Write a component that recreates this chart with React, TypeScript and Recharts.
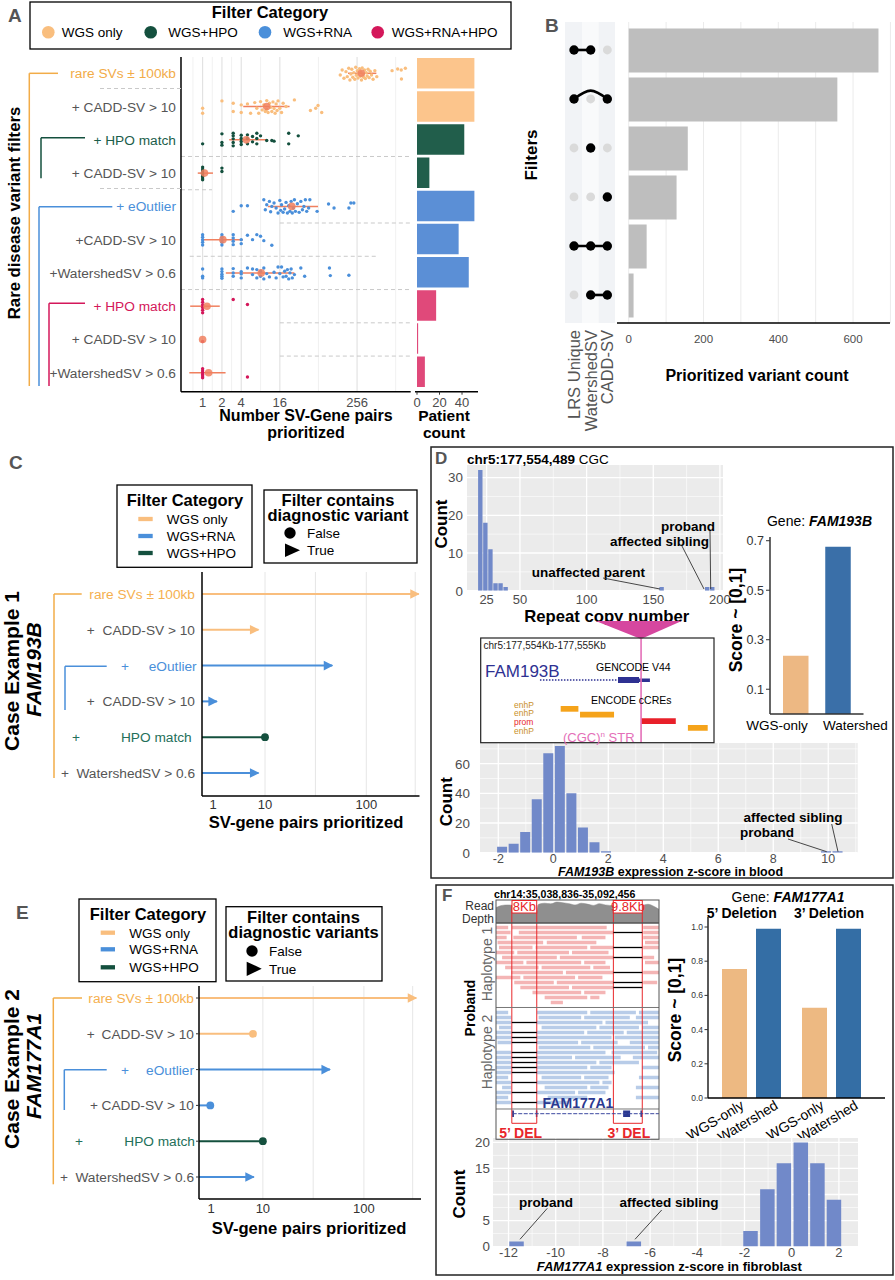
import React from 'react';
import {
  ScatterChart, Scatter, BarChart, Bar, Cell, XAxis, YAxis, CartesianGrid,
  ReferenceLine, ReferenceArea, AreaChart, Area,
} from 'recharts';

const FONT = '"Liberation Sans", Arial, Helvetica, sans-serif';

const COL: any = {
  wgs: '#F9BE7E', hpo: '#14503E', rna: '#4A8FDA', rnahpo: '#D4175A',
  summary: '#F0805F', gray: '#555555',
};
const TXT: any = { wgs: '#F2AC48', hpo: '#1B5E4B', rna: '#4A8FDA', rnahpo: '#D4175A', gray: '#555555' };
const PATIENT_COL: any = { wgs: '#FCC58C', hpo: '#215E4B', rna: '#5B8FD6', rnahpo: '#E0497A' };
const ROW_FS = 13.7;

// ---------------- Panel A data ----------------
const filterLabelsA = ['rare SVs ± 100kb', '+ CADD-SV > 10', '+ HPO match', '+  CADD-SV > 10', '+ eOutlier',
  '+CADD-SV > 10', '+WatershedSV > 0.6', '+ HPO match', '+ CADD-SV > 10', '+WatershedSV > 0.6'];
const filterCategoryA = ['wgs', 'wgs', 'hpo', 'hpo', 'rna', 'rna', 'rna', 'rnahpo', 'rnahpo', 'rnahpo'];
const labelColorA = ['wgs', 'gray', 'hpo', 'gray', 'rna', 'gray', 'gray', 'rnahpo', 'gray', 'gray'];
const patientCountA = [51, 51, 42, 11, 51, 37, 46, 17, 1, 7];
const patientTicks = [0, 20, 40];

const ptsRareSV = [[140,0.05],[150,-0.1],[160,0.15],[172,-0.05],[180,0.1],[190,-0.15],[198,0.2],[205,0.02],[212,-0.12],[220,0.12],[228,-0.02],[236,0.18],[244,-0.18],[250,0.06],[258,-0.08],[265,0.14],[272,0],[280,-0.14],[288,0.09],[295,-0.04],[300,0.2],[308,-0.16],[316,0.04],[325,0.12],[334,-0.1],[345,0.16],[356,-0.02],[368,0.08],[380,-0.12],[395,0.13],[410,-0.06],[430,0.05],[455,0.18],[485,-0.08],[520,0.1],[900,-0.08],[1100,-0.13],[1250,-0.1],[1450,-0.15],[1260,0.17]];
const ptsCadd1 = [[1,0.05],[1,0.2],[2,-0.17],[3,-0.1],[3,0.15],[4,-0.05],[4,0.18],[5,-0.08],[5.6,0.2],[6.5,-0.12],[7,0.05],[7.5,0.2],[8,-0.15],[8.5,0.1],[9,-0.05],[9.5,0.15],[10,-0.18],[10,0.08],[10.5,0.18],[11,-0.1],[11.5,0.02],[12,0.15],[12.5,-0.14],[13,0.06],[13.5,0.2],[14,-0.08],[14.5,0.12],[15,-0.17],[16,0.05],[17,0.18],[18,-0.1],[20,0],[27,-0.2],[48,0.12],[58,0.05],[63,-0.03],[72,0.18]];
const ptsHpo1 = [[1,0.12],[2,-0.18],[2,0.08],[2,0.16],[3,-0.2],[3,-0.12],[3,-0.03],[3,0.08],[3,0.18],[4,-0.14],[4,-0.04],[4,0.05],[4,0.14],[5,-0.15],[5,-0.04],[5,0.12],[6,-0.1],[6,0.06],[7,-0.2],[7,-0.04],[7,0.12],[8,-0.12],[10,0.02],[12,0.02],[13,0.04],[22,-0.2],[22,0.12],[31,-0.12]];
const ptsCadd2 = [[1,-0.18],[1,-0.12],[1,-0.06],[1,0],[1,0.05],[1,0.1],[1,0.15],[1,0.2],[2,-0.15],[2,-0.05]];
const ptsEoutlier = [[3,0.15],[4,-0.02],[5,-0.02],[9,-0.2],[9.5,0.1],[10,-0.05],[11,-0.15],[11.5,0.16],[12,0],[13,-0.1],[14,0.05],[15,0.2],[16,-0.18],[16.5,0.12],[17,-0.05],[18,0.18],[19,0.08],[20,-0.12],[21,0.2],[22,-0.02],[23,0.15],[24,-0.15],[25,0.2],[26,0.05],[27,-0.2],[28,0.15],[30,-0.08],[32,0.18],[34,-0.15],[36,0.1],[38,0],[40,-0.2],[42,0.15],[45,0.05],[47,-0.2],[61,0.15],[92,-0.07],[112,0.05],[191,0.05],[205,-0.1],[228,-0.1]];
const ptsCadd3 = [[1,-0.15],[1,-0.07],[1,0],[1,0.08],[1,0.16],[2,-0.15],[2,-0.07],[2,0],[2,0.08],[2,0.16],[3,-0.15],[3,-0.05],[3,0.05],[3,0.15],[4,0],[4,0.12],[5,-0.13],[6,0],[7,-0.15],[8,-0.1],[9,0.03],[12,0.17]];
const ptsWatershed1 = [[1,-0.12],[1,0.1],[1,0.15],[2,-0.12],[2,-0.04],[2,0.04],[2,0.1],[2,0.16],[3,-0.13],[3,0],[3,0.1],[4,-0.04],[4,0.03],[4,0.15],[5,-0.15],[6,-0.12],[6,0.05],[7,-0.1],[7,0.15],[8,-0.05],[8,0.1],[9,-0.15],[9,0.18],[10,0.02],[11,0.12],[13,-0.02],[14,0.15],[15,-0.18],[16,0.02],[17,-0.18],[18,0.12],[19,-0.05],[20,0.1],[21,-0.1],[22,0.18],[23,0],[24,-0.12],[25,0.15],[27,0.05],[34,-0.15],[39,0.1],[95,-0.15],[98,0.08],[191,0.07]];
const ptsHpo2 = [[1,-0.2],[1,-0.12],[1,-0.04],[1,0.04],[1,0.12],[1,0.2],[3,-0.2],[5,-0.05]];
const ptsCadd4 = [[1,0.06]];
const ptsWatershed2 = [[1,-0.12],[1,-0.05],[1,0],[1,0.05],[1,0.1],[1,0.15],[5,0.13]];
const pointsByRowA = [ptsRareSV, ptsCadd1, ptsHpo1, ptsCadd2, ptsEoutlier, ptsCadd3, ptsWatershed1, ptsHpo2, ptsCadd4, ptsWatershed2];

const medianA = [298, 10, 4.8, 1.07, 24.6, 2.07, 8.2, 1.17, 1.0, 1.24];
const lowA = [185, 4.3, 2.6, 0.84, 10.4, 1.0, 2.3, 0.64, 1.0, 0.62];
const highA = [512, 22.7, 10, 1.45, 63, 4.25, 27, 1.85, 1.0, 2.28];
const xTicksA = [1, 2, 4, 16, 256];
const gridMajorA = [1, 2, 4, 16, 256];
const gridMinorA = [0.707, 1.414, 2.83, 8, 64, 1024];
const dashedSegA = [[3.5, 0.46, 1750], [4.5, 0.46, 1.4], [5.5, 16, 1750], [6.5, 0.63, 520], [7.5, 0.46, 1750], [8.5, 16, 1750], [9.5, 16, 1750]];

// ---------------- Panel B data ----------------
const upsetSets = ['LRS Unique', 'WatershedSV', 'CADD-SV'];
const upsetCounts = [668, 558, 158, 128, 48, 13];
const upsetMembership = [[1, 1, 0], [1, 0, 1], [0, 1, 0], [0, 0, 1], [1, 1, 1], [0, 1, 1]];
const upsetTicks = [0, 200, 400, 600];
const upsetGrid = [0, 100, 200, 300, 400, 500, 600, 700];

// ---------------- Panel C / E data ----------------
const caseLabels = ['rare SVs ± 100kb', 'CADD-SV > 10', 'eOutlier', 'CADD-SV > 10', 'HPO match', 'WatershedSV > 0.6'];
const caseCats = ['wgs', 'wgs', 'rna', 'rna', 'hpo', 'rna'];
const caseLabelColors = ['#F5B04F', '#555555', '#4A8FDA', '#555555', '#24705A', '#555555'];
const case1Values = [290, 8.3, 49, 1.4, 10, 8.3];
const case1Diagnostic = [true, true, true, true, false, true];
const case2Values = [290, 7.5, 49, 0.93, 10, 7.7];
const case2Diagnostic = [true, false, true, false, false, true];
const caseTicks = [1, 10, 100];
const caseGrid = [10, 34, 100, 270];

// ---------------- Panel D data ----------------
const repeatBins = [20.5, 24.3, 28.1, 31.9, 35.7, 39.5, 156.5, 190.7, 194.5];
const repeatCounts = [32, 18, 11, 2, 2, 1, 1, 1, 1];
const exprBins = [-1.87, -1.45, -1.03, -0.61, -0.19, 0.23, 0.65, 1.07, 1.49, 1.91, 9.91, 10.33];
const exprCounts = [4, 6, 14, 36, 67, 72, 40, 17, 7, 1, 1, 1];
const scoreModels = ['WGS-only', 'Watershed'];
const fam193bScores = [0.235, 0.676];
const ccreNames = ['enhP', 'enhP', 'prom', 'enhP'];
const ccreStart = [342, 425, 687, 888];
const ccreEnd = [418, 571, 836, 973];
const ccreLane = [67, 72.7, 79.3, 86];
const strPos = 687;
const geneIntron = [253, 588];
const geneExonThick = [588, 678];
const geneExonThin = [678, 725];

// ---------------- Panel F data ----------------
const fam177a1Del5 = [0.755, 0.99];
const fam177a1Del3 = [0.528, 0.99];
const fibroBins = [-11.66, -6.69, -1.745, -1.03, -0.33, 0.386, 1.09, 1.79];
const fibroCounts = [1, 1, 3, 11, 16, 20, 16, 9];
const depthKb = [0, 2, 4, 5.2, 5.8, 8, 10, 12, 13.4, 14, 16, 18, 20, 22, 24, 26, 28, 30, 32, 34, 36, 38.6, 39.2, 41, 43, 45, 48.1, 48.7, 50, 52, 53.6];
const depthVal = [0.7, 0.8, 0.82, 0.8, 0.5, 0.52, 0.48, 0.5, 0.52, 0.85, 0.9, 0.87, 0.95, 0.92, 0.88, 0.82, 0.9, 0.86, 0.8, 0.88, 0.82, 0.78, 0.48, 0.5, 0.45, 0.5, 0.5, 0.82, 0.85, 0.75, 0.62];
const del5 = [5.2, 13.4];
const del3 = [38.6, 48.1];
const hap1Rows = [
  [[0,4],[5.2,36.4],[48.4,53.6]],
  [[0,4.8],[7.5,38.6],[48.4,53.6]],
  [[0,3.5],[5.7,26.6],[28.2,36],[48.4,53.6]],
  [[0.5,15.5],[16.7,33],[49,53.6]],
  [[1,12],[13,30],[31,38.6],[48.4,53.6]],
  [[0,6],[7,24],[25,37]],
  [[2,20],[21,38.6],[48.4,52]],
  [[0,9],[10,28],[29,36],[49,53.6]],
  [[3,14],[15,31],[32,37.5]],
  [[5,22],[23,38.6],[48.4,53.6]],
  [[0,8],[9,26],[27,35]],
  [[6,19],[20,38.6],[48.4,53]],
  [[8,24],[25,38.6]],
  [[12,28],[29,36]],
  [[16,30],[31,34]],
  [[18,22]],
];
const hap1DelRows = [1, 4, 6, 9, 11, 12];
const hap2FirstRow = 17;
const hap2Rows = [
  [[0,4],[13.5,30],[31,46],[47,53.6]],
  [[0,5],[14,28],[29,44],[46,53.6]],
  [[0,5.2],[13.4,35],[36,50]],
  [[1,5],[15,33],[34,47],[48,53.6]],
  [[0,5.2],[13.4,29],[30,42],[43,53.6]],
  [[0,5.2],[13.4,38],[39,53.6]],
  [[0.5,5.2],[13.4,27],[28,40],[44,53.6]],
  [[14,31],[32,49],[50,53.6]],
  [[0,5.2],[13.4,36],[38,53]],
  [[0,5.2],[13.4,25],[26,41],[45,53.6]],
  [[0,5.2],[13.4,33],[34,47]],
  [[0,5.2],[13.4,30],[31,38],[48,53.6]],
  [[0,5.2],[13.4,39]],
  [[0,4],[15,28],[29,37],[47,53.6]],
  [[0,5.2],[13.4,34],[35,38]],
  [[2,5],[16,30],[31,37],[46,53.6]],
  [[0,5.2],[13.4,26],[27,36]],
  [[0,4],[17,30],[46,53.6]],
  [[0,5.2],[13.4,24]],
];
const hap2DelRows = [19, 21, 22, 23, 25, 26, 27, 28, 29, 31, 33, 35];
const geneTrack = [5.5, 53.6];
const geneExons = [[5.3, 5.9], [13.1, 13.6], [41.8, 44.1], [47.5, 48.0]];

// ---------------- helpers ----------------
const tx = (v: number) => Math.log10(v + 4);

function frame(x: number, y: number, w: number, h: number, yw = 0, xh = 0, m = 14, mr?: number, ml?: number) {
  const R = mr == null ? m : mr;
  const Lm = ml == null ? m : ml;
  return {
    left: x - yw - Lm, top: y - m,
    width: w + yw + Lm + R, height: h + xh + 2 * m,
    margin: { top: m, right: R, bottom: m, left: Lm },
  };
}

const Place = ({ f, z = 2, children }: any) => (
  <div style={{ position: 'absolute', left: f.left, top: f.top, width: f.width, height: f.height, zIndex: z }}>{children}</div>
);

const dot = (color: string, r: number, op = 1) => (p: any) => (
  <circle cx={p.cx} cy={p.cy} r={r} fill={color} fillOpacity={op} />
);
const noShape = () => <g />;

const bottomTick = (fs: number, fill: string, dy: number, fmt: any = (v: any) => String(v), tickLen = 0) => (p: any) => (
  <g>
    {tickLen > 0 ? <line x1={p.x} x2={p.x} y1={p.y} y2={p.y + tickLen} stroke="#333" strokeWidth={1} /> : null}
    <text x={p.x} y={p.y + dy} textAnchor="middle" fontSize={fs} fill={fill} fontFamily={FONT}>{fmt(p.payload.value)}</text>
  </g>
);
const leftTick = (fs: number, fill: string, dx: number, fmt: any = (v: any) => String(v), tickLen = 0) => (p: any) => (
  <g>
    {tickLen > 0 ? <line x1={p.x - tickLen} x2={p.x} y1={p.y} y2={p.y} stroke="#333" strokeWidth={1} /> : null}
    <text x={p.x - dx} y={p.y + fs * 0.36} textAnchor="end" fontSize={fs} fill={fill} fontFamily={FONT}>{fmt(p.payload.value)}</text>
  </g>
);

const T = ({ x, cy, fs = 13, a = 'start', c = '#000', b = false, i = false, children }: any) => (
  <text x={x} y={cy + fs * 0.36} fontSize={fs} textAnchor={a} fill={c} fontWeight={b ? 700 : 400}
    fontStyle={i ? 'italic' : 'normal'} fontFamily={FONT}>{children}</text>
);
const VT = ({ cx, cy, fs = 13, c = '#000', b = false, i = false, children }: any) => {
  const bx = cx + fs * 0.36;
  return (
    <text x={bx} y={cy} transform={`rotate(-90 ${bx} ${cy})`} fontSize={fs} textAnchor="middle" fill={c}
      fontWeight={b ? 700 : 400} fontStyle={i ? 'italic' : 'normal'} fontFamily={FONT}>{children}</text>
  );
};
const Ln = ({ x1, y1, x2, y2, c = '#000', w = 1, d }: any) => (
  <line x1={x1} y1={y1} x2={x2} y2={y2} stroke={c} strokeWidth={w} strokeDasharray={d} />
);

// ---------------- Panel A ----------------
function PanelA() {
  const f = frame(181, 57, 229.7, 334.7, 181, 30);
  const cats = ['wgs', 'hpo', 'rna', 'rnahpo'];
  const series = cats.map((cat) => ({
    cat,
    pts: pointsByRowA.flatMap((pts, i) => (filterCategoryA[i] === cat ? pts.map(([v, j]) => ({ x: v, y: i + 1 + j })) : [])),
  }));
  const summary = medianA.map((m, i) => ({ x: m, y: i + 1 }));
  const rowTick = (p: any) => {
    const i = Math.round(p.payload.value) - 1;
    if (i < 0 || i > 9) return <g />;
    return (
      <text x={p.x - 5} y={p.y + ROW_FS * 0.36} textAnchor="end" fontSize={ROW_FS} fill={TXT[labelColorA[i]]} fontFamily={FONT}>
        {filterLabelsA[i]}
      </text>
    );
  };
  const fp = frame(415, 57, 63, 334.7, 0, 30);
  const pData = patientCountA.map((c, i) => ({ row: String(i + 1), c }));
  return (
    <>
      <Place f={f}>
        <ScatterChart width={f.width} height={f.height} margin={f.margin}>
          <CartesianGrid horizontal={false} verticalValues={gridMinorA} stroke="#EEEEEE" strokeWidth={0.8} />
          <CartesianGrid horizontal={false} verticalValues={gridMajorA} stroke="#E0E0E0" strokeWidth={1.1} />
          <XAxis type="number" dataKey="x" scale="log" domain={[0.46, 1756]} ticks={xTicksA} interval={0} allowDataOverflow
            height={30} tickSize={0} tickMargin={0} axisLine={{ stroke: '#000', strokeWidth: 1.5 }} tickLine={false}
            tick={bottomTick(13, '#4D4D4D', 15)} />
          <YAxis type="number" dataKey="y" domain={[0.51, 10.57]} reversed ticks={[1, 2, 3, 4, 5, 6, 7, 8, 9, 10]} interval={0}
            allowDataOverflow width={181} tickSize={0} tickMargin={0} axisLine={{ stroke: '#000', strokeWidth: 1.5 }}
            tickLine={false} tick={rowTick} />
          {dashedSegA.map(([yy, x1, x2], k) => (
            <ReferenceLine key={'d' + k} ifOverflow="visible" segment={[{ x: x1, y: yy }, { x: x2, y: yy }]} stroke="#C9C9C9" strokeDasharray="4 3" />
          ))}
          {series.map((s) => (
            <Scatter key={s.cat} data={s.pts} isAnimationActive={false} shape={dot(COL[s.cat], 1.7)} />
          ))}
          {medianA.map((m, i) => (lowA[i] < highA[i] ? (
            <ReferenceLine key={'e' + i} ifOverflow="visible" segment={[{ x: lowA[i], y: i + 1 }, { x: highA[i], y: i + 1 }]}
              stroke={COL.summary} strokeWidth={1.5} />
          ) : null))}
          <Scatter data={summary} isAnimationActive={false} shape={dot(COL.summary, 3.8, 0.85)} />
        </ScatterChart>
      </Place>
      <Place f={fp}>
        <BarChart layout="vertical" width={fp.width} height={fp.height} margin={fp.margin} data={pData} barSize={30.5}>
          <XAxis type="number" domain={[-1.78, 54.2]} ticks={patientTicks} interval={0} allowDataOverflow height={30}
            tickSize={0} tickMargin={0} axisLine={{ stroke: '#000', strokeWidth: 1.5 }} tickLine={false}
            tick={bottomTick(13, '#4D4D4D', 15, undefined, 3)} />
          <YAxis type="category" dataKey="row" width={0} padding={{ top: 0, bottom: 3 }} tick={false} tickLine={false}
            axisLine={{ stroke: '#000', strokeWidth: 1.5 }} />
          <Bar dataKey="c" isAnimationActive={false}>
            {pData.map((d, i) => <Cell key={i} fill={PATIENT_COL[filterCategoryA[i]]} />)}
          </Bar>
        </BarChart>
      </Place>
    </>
  );
}

// ---------------- Panel B ----------------
function PanelB() {
  const f = frame(617, 22, 273, 301, 0, 30);
  const data = upsetCounts.map((c, i) => ({ row: String(i + 1), c }));
  const markTick = (p: any) => <line x1={p.x - 4} x2={p.x} y1={p.y} y2={p.y} stroke="#000" strokeWidth={1.2} />;
  const fm = frame(565, 22, 50, 301, 0, 115);
  const pts = upsetMembership.flatMap((m, r) => m.map((on, c) => ({ x: c + 1, y: r + 1, on })));
  const links = upsetMembership.map((m, r) => {
    const act = m.map((on, c) => (on ? c + 1 : 0)).filter((c) => c > 0);
    if (act.length < 2) return null;
    const lo = act[0];
    const hi = act[act.length - 1];
    const line = [];
    for (let c = lo; c <= hi; c++) line.push({ x: c, y: m[c - 1] ? r + 1 : r + 1 - 0.17 });
    return line;
  });
  const setTick = (p: any) => {
    const i = Math.round(p.payload.value) - 1;
    const bx = p.x + 16.5 * 0.36;
    const by = p.y + 7;
    return (
      <text x={bx} y={by} transform={`rotate(-90 ${bx} ${by})`} textAnchor="end" fontSize={16.5} fill="#555" fontFamily={FONT}>
        {upsetSets[i]}
      </text>
    );
  };
  return (
    <>
      <Place f={f}>
        <BarChart layout="vertical" width={f.width} height={f.height} margin={f.margin} data={data} barSize={44}>
          <CartesianGrid horizontal={false} verticalValues={upsetGrid} stroke="#EBEBEB" strokeWidth={1} />
          <XAxis type="number" domain={[-31.3, 698.8]} ticks={upsetTicks} interval={0} allowDataOverflow height={30}
            tickSize={0} tickMargin={0} axisLine={{ stroke: '#000', strokeWidth: 1.5 }} tickLine={false}
            tick={bottomTick(11.5, '#4D4D4D', 20.4)} />
          <YAxis type="category" dataKey="row" width={0} padding={{ top: 3.5, bottom: 3.5 }} tick={markTick} tickSize={0}
            tickMargin={0} tickLine={false} axisLine={{ stroke: '#000', strokeWidth: 1.5 }} />
          <Bar dataKey="c" fill="#BEBEBE" isAnimationActive={false} />
        </BarChart>
      </Place>
      <Place f={fm} z={3}>
        <ScatterChart width={fm.width} height={fm.height} margin={fm.margin}>
          <XAxis type="number" dataKey="x" domain={[0.46, 3.46]} ticks={[1, 2, 3]} interval={0} allowDataOverflow height={115}
            tickSize={0} tickMargin={0} axisLine={false} tickLine={false} tick={setTick} />
          <YAxis type="number" dataKey="y" domain={[0.429, 6.572]} reversed hide allowDataOverflow />
          {links.map((l, k) => (l ? (
            <Scatter key={'l' + k} data={l} isAnimationActive={false} shape={noShape}
              line={{ stroke: '#000', strokeWidth: 2.6 }} lineJointType="natural" />
          ) : null))}
          <Scatter data={pts.filter((p) => !p.on)} isAnimationActive={false} shape={dot('#DADADA', 4.4)} />
          <Scatter data={pts.filter((p) => p.on)} isAnimationActive={false} shape={dot('#000', 4.7)} />
        </ScatterChart>
      </Place>
    </>
  );
}

// ---------------- Panels C / E ----------------
function CaseChart({ plot, xd, yd, values, diag, layout, tickLen, dyTick }: any) {
  const yw = plot.x - 40;
  const f = frame(plot.x, plot.y, plot.w, plot.h, yw, 30);
  const data = values.map((v: number, i: number) => ({ t: tx(v), row: i + 1, cat: caseCats[i], diag: diag[i] }));
  const tick = (p: any) => {
    const i = Math.round(p.payload.value) - 1;
    if (i < 0 || i > 5) return <g />;
    const L = layout[i];
    const base = p.y + ROW_FS * 0.36;
    const col = caseLabelColors[i];
    return (
      <g>
        {tickLen ? <line x1={p.x - tickLen} x2={p.x} y1={p.y} y2={p.y} stroke="#333" strokeWidth={1} /> : null}
        {L.plus != null ? (
          <text x={p.x + (L.plus - plot.x)} y={base} textAnchor="middle" fontSize={ROW_FS} fill={col} fontFamily={FONT}>+</text>
        ) : null}
        <text x={p.x + (L.right - plot.x)} y={base} textAnchor="end" fontSize={ROW_FS} fill={col} fontFamily={FONT}>{caseLabels[i]}</text>
      </g>
    );
  };
  const marker = (p: any) => {
    const c = COL[p.payload.cat];
    if (p.payload.diag) {
      return <polygon points={`${p.cx + 1},${p.cy} ${p.cx - 8.5},${p.cy - 4.8} ${p.cx - 8.5},${p.cy + 4.8}`} fill={c} />;
    }
    return <circle cx={p.cx} cy={p.cy} r={3.9} fill={c} />;
  };
  return (
    <Place f={f}>
      <ScatterChart width={f.width} height={f.height} margin={f.margin}>
        <CartesianGrid horizontal={false} verticalValues={caseGrid.map(tx)} stroke="#E6E6E6" />
        <XAxis type="number" dataKey="t" domain={xd} ticks={caseTicks.map(tx)} interval={0} allowDataOverflow height={30}
          tickSize={0} tickMargin={0} axisLine={{ stroke: '#000', strokeWidth: 1.5 }} tickLine={false}
          tick={bottomTick(13, '#333', dyTick, (v: number) => String(Math.round(Math.pow(10, v) - 4)))} />
        <YAxis type="number" dataKey="row" domain={yd} reversed ticks={[1, 2, 3, 4, 5, 6]} interval={0} allowDataOverflow
          width={yw} tickSize={0} tickMargin={0} axisLine={{ stroke: '#000', strokeWidth: 1.5 }} tickLine={false} tick={tick} />
        {data.map((d: any) => (
          <ReferenceLine key={'s' + d.row} ifOverflow="visible" segment={[{ x: xd[0], y: d.row }, { x: d.t, y: d.row }]}
            stroke={COL[d.cat]} strokeWidth={2} />
        ))}
        <Scatter data={data} isAnimationActive={false} shape={marker} />
      </ScatterChart>
    </Place>
  );
}

const layoutC = [{ plus: null, right: 195 }, { plus: 90.7, right: 195 }, { plus: 125, right: 196.7 }, { plus: 90.7, right: 195 }, { plus: 76, right: 191.7 }, { plus: 65, right: 195 }];
const layoutE = [{ plus: null, right: 194 }, { plus: 90.7, right: 194 }, { plus: 125, right: 194 }, { plus: 94, right: 194 }, { plus: 79, right: 195 }, { plus: 64, right: 194 }];

// ---------------- Panel D ----------------
function PanelD() {
  const f1 = frame(467, 465, 256, 125.7, 26, 22);
  const rep = repeatBins.map((b, i) => ({ b, n: repeatCounts[i] }));
  const f2 = frame(480, 743.3, 377.7, 109.7, 26, 20);
  const expr = exprBins.map((b, i) => ({ b, n: exprCounts[i] }));
  const fs = frame(769.5, 537, 93.5, 177, 30, 24, 14, 34);
  const sc = scoreModels.map((m, i) => ({ m, v: fam193bScores[i] }));
  const scoreColors = ['#EDB883', '#3A6FA8'];
  const labelDx = [-19, 17];
  const scTick = (p: any) => {
    const i = scoreModels.indexOf(p.payload.value);
    return <text x={p.x + labelDx[i]} y={p.y + 16.2} textAnchor="middle" fontSize={13.5} fill="#000" fontFamily={FONT}>{p.payload.value}</text>;
  };
  const fi = frame(481, 638.5, 233, 104, 0, 0, 3);
  const ccre = ccreNames.map((n, i) => ({ n, s: ccreStart[i], e: ccreEnd[i], y: ccreLane[i] }));
  return (
    <>
      <Place f={f1}>
        <BarChart width={f1.width} height={f1.height} margin={f1.margin} data={rep} barSize={4.4}>
          <CartesianGrid fill="#EBEBEB" stroke="#FFFFFF" strokeWidth={1.3} verticalValues={[25, 50, 100, 150, 200]} horizontalValues={[0, 10, 20, 30]} />
          <CartesianGrid stroke="#FFFFFF" strokeWidth={0.6} verticalValues={[75, 125, 175]} horizontalValues={[5, 15, 25]} />
          <XAxis type="number" dataKey="b" domain={[10.28, 202.3]} ticks={[25, 50, 100, 150, 200]} interval={0} allowDataOverflow
            height={22} tickSize={0} tickMargin={0} axisLine={false} tickLine={false} tick={bottomTick(13, '#4D4D4D', 13.2)} />
          <YAxis type="number" domain={[0, 33.34]} ticks={[0, 10, 20, 30]} interval={0} allowDataOverflow width={26}
            tickSize={0} tickMargin={0} axisLine={false} tickLine={false} tick={leftTick(13.4, '#4D4D4D', 4)} />
          <Bar dataKey="n" fill="#7189C9" isAnimationActive={false} />
        </BarChart>
      </Place>
      <Place f={f2}>
        <BarChart width={f2.width} height={f2.height} margin={f2.margin} data={expr} barSize={10}>
          <CartesianGrid fill="#EBEBEB" stroke="#FFFFFF" strokeWidth={1.3} verticalValues={[-2, 0, 2, 4, 6, 8, 10]} horizontalValues={[0, 20, 40, 60]} />
          <CartesianGrid stroke="#FFFFFF" strokeWidth={0.6} verticalValues={[-1, 1, 3, 5, 7, 9, 11]} horizontalValues={[10, 30, 50, 70]} />
          <XAxis type="number" dataKey="b" domain={[-2.665, 11.07]} ticks={[-2, 0, 2, 4, 6, 8, 10]} interval={0} allowDataOverflow
            height={20} tickSize={0} tickMargin={0} axisLine={false} tickLine={false} tick={bottomTick(12.5, '#4D4D4D', 10)} />
          <YAxis type="number" domain={[0, 73.95]} ticks={[0, 20, 40, 60]} interval={0} allowDataOverflow width={26}
            tickSize={0} tickMargin={0} axisLine={false} tickLine={false} tick={leftTick(13.4, '#4D4D4D', 10)} />
          <Bar dataKey="n" fill="#7189C9" isAnimationActive={false} />
        </BarChart>
      </Place>
      <Place f={fs}>
        <BarChart width={fs.width} height={fs.height} margin={fs.margin} data={sc} barSize={25.5}>
          <XAxis dataKey="m" padding={{ left: 5, right: 4 }} height={24} tickSize={0} tickMargin={0}
            axisLine={{ stroke: '#333', strokeWidth: 1.5 }} tickLine={false} tick={scTick} interval={0} />
          <YAxis type="number" domain={[0, 0.715]} ticks={[0.1, 0.3, 0.5, 0.7]} interval={0} allowDataOverflow width={30}
            tickSize={0} tickMargin={0} axisLine={{ stroke: '#333', strokeWidth: 1.5 }} tickLine={false}
            tick={leftTick(12.5, '#333', 6, (v: number) => v.toFixed(1), 4)} />
          <Bar dataKey="v" isAnimationActive={false}>
            {sc.map((d, i) => <Cell key={i} fill={scoreColors[i]} />)}
          </Bar>
        </BarChart>
      </Place>
      <Place f={fi} z={3}>
        <ScatterChart width={fi.width} height={fi.height} margin={fi.margin}>
          <XAxis type="number" dataKey="s" domain={[0, 1000]} hide allowDataOverflow />
          <YAxis type="number" dataKey="y" domain={[0, 104]} reversed hide allowDataOverflow />
          <ReferenceLine ifOverflow="visible" segment={[{ x: geneIntron[0], y: 41 }, { x: geneIntron[1], y: 41 }]} stroke="#2E3192" strokeWidth={1.5} strokeDasharray="1.5 1.5" />
          <ReferenceArea ifOverflow="visible" x1={geneExonThick[0]} x2={geneExonThick[1]} y1={38} y2={44} fill="#2E3192" fillOpacity={1} stroke="none" />
          <ReferenceArea ifOverflow="visible" x1={geneExonThin[0]} x2={geneExonThin[1]} y1={39.5} y2={43} fill="#2E3192" fillOpacity={1} stroke="none" />
          {ccre.map((c, i) => (
            <ReferenceArea key={'c' + i} ifOverflow="visible" x1={c.s} x2={c.e} y1={c.y} y2={c.y + 5.7}
              fill={c.n === 'prom' ? '#E8202A' : '#F5A31A'} fillOpacity={1} stroke="none" />
          ))}
          <ReferenceLine ifOverflow="visible" x={strPos} stroke="#E46FB8" strokeWidth={1.6} />
          <Scatter data={ccre} isAnimationActive={false} shape={noShape} />
        </ScatterChart>
      </Place>
    </>
  );
}

// ---------------- Panel F ----------------
function PanelF() {
  const scoreColors = ['#EDB982', '#346EA5'];
  const rotTick = (p: any) => {
    const ax = p.x + 11;
    const ay = p.y + 10;
    return <text x={ax} y={ay} transform={`rotate(-31 ${ax} ${ay})`} textAnchor="end" fontSize={14} fill="#000" fontFamily={FONT}>{p.payload.value}</text>;
  };
  const fl = frame(708, 917, 80, 181, 30, 45, 14, 14, 40);
  const fr = frame(788, 917, 97, 181, 0, 45, 14, 5, 60);
  const d5 = scoreModels.map((m, i) => ({ m, v: fam177a1Del5[i] }));
  const d3 = scoreModels.map((m, i) => ({ m, v: fam177a1Del3[i] }));
  const fh = frame(493, 1138, 365, 108.6, 26, 22);
  const fib = fibroBins.map((b, i) => ({ b, n: fibroCounts[i] }));
  const fd = frame(496, 901, 163, 22, 0, 0, 2);
  const depth = depthKb.map((k, i) => ({ k, d: depthVal[i] }));
  const fb = frame(496, 903, 163, 236.3, 0, 0, 3);
  const reads1 = hap1Rows.flatMap((segs, r) => segs.map(([s, e]) => ({ r, s, e })));
  const reads2 = hap2Rows.flatMap((segs, k) => segs.map(([s, e]) => ({ r: k + hap2FirstRow, s, e })));
  return (
    <>
      <Place f={fl}>
        <BarChart width={fl.width} height={fl.height} margin={fl.margin} data={d5} barSize={25}>
          <XAxis dataKey="m" padding={{ left: 9, right: 3 }} height={45} tickSize={0} tickMargin={0}
            axisLine={{ stroke: '#000', strokeWidth: 1.3 }} tickLine={false} tick={rotTick} interval={0} />
          <YAxis type="number" domain={[0, 1.0585]} ticks={[0, 0.2, 0.4, 0.6, 0.8, 1.0]} interval={0} allowDataOverflow width={30}
            tickSize={0} tickMargin={0} axisLine={{ stroke: '#000', strokeWidth: 1.3 }} tickLine={false}
            tick={leftTick(8.5, '#333', 5, (v: number) => v.toFixed(1), 3.5)} />
          <Bar dataKey="v" isAnimationActive={false}>
            {d5.map((d, i) => <Cell key={i} fill={scoreColors[i]} />)}
          </Bar>
        </BarChart>
      </Place>
      <Place f={fr}>
        <BarChart width={fr.width} height={fr.height} margin={fr.margin} data={d3} barSize={25}>
          <XAxis dataKey="m" padding={{ left: 9, right: 20 }} height={45} tickSize={0} tickMargin={0}
            axisLine={{ stroke: '#000', strokeWidth: 1.3 }} tickLine={false} tick={rotTick} interval={0} />
          <YAxis type="number" domain={[0, 1.0585]} width={0} tick={false} tickLine={false}
            axisLine={{ stroke: '#000', strokeWidth: 1.3 }} allowDataOverflow />
          <Bar dataKey="v" isAnimationActive={false}>
            {d3.map((d, i) => <Cell key={i} fill={scoreColors[i]} />)}
          </Bar>
        </BarChart>
      </Place>
      <Place f={fh}>
        <BarChart width={fh.width} height={fh.height} margin={fh.margin} data={fib} barSize={14.5}>
          <CartesianGrid fill="#EBEBEB" stroke="#FFFFFF" strokeWidth={1.3} verticalValues={[-12, -10, -8, -6, -4, -2, 0, 2]} horizontalValues={[0, 5, 10, 15, 20]} />
          <CartesianGrid stroke="#FFFFFF" strokeWidth={0.6} verticalValues={[-11, -9, -7, -5, -3, -1, 1]} horizontalValues={[2.5, 7.5, 12.5, 17.5]} />
          <XAxis type="number" dataKey="b" domain={[-12.657, 2.809]} ticks={[-12, -10, -8, -6, -4, -2, 0, 2]} interval={0}
            allowDataOverflow height={22} tickSize={0} tickMargin={0} axisLine={false} tickLine={false}
            tick={bottomTick(13, '#4D4D4D', 10)} />
          <YAxis type="number" domain={[0, 20.84]} ticks={[0, 5, 15, 20]} interval={0} allowDataOverflow width={26}
            tickSize={0} tickMargin={0} axisLine={false} tickLine={false} tick={leftTick(13.4, '#4D4D4D', 3)} />
          <Bar dataKey="n" fill="#7189C9" isAnimationActive={false} />
        </BarChart>
      </Place>
      <Place f={fd}>
        <AreaChart width={fd.width} height={fd.height} margin={fd.margin} data={depth}>
          <XAxis type="number" dataKey="k" domain={[0, 53.6]} hide allowDataOverflow />
          <YAxis type="number" domain={[0, 1]} hide allowDataOverflow />
          <Area type="monotone" dataKey="d" fill="#8F8F8F" fillOpacity={1} stroke="#888" strokeWidth={0.5} isAnimationActive={false} />
        </AreaChart>
      </Place>
      <Place f={fb} z={3}>
        <ScatterChart width={fb.width} height={fb.height} margin={fb.margin}>
          <XAxis type="number" dataKey="s" domain={[0, 53.6]} hide allowDataOverflow />
          <YAxis type="number" dataKey="r" domain={[-4.4, 42.86]} reversed hide allowDataOverflow />
          {reads1.map((d, k) => (
            <ReferenceArea key={'a' + k} ifOverflow="visible" x1={d.s} x2={d.e} y1={d.r + 0.15} y2={d.r + 0.85} fill="#F4B5B5" fillOpacity={1} stroke="none" />
          ))}
          {reads2.map((d, k) => (
            <ReferenceArea key={'b' + k} ifOverflow="visible" x1={d.s} x2={d.e} y1={d.r + 0.15} y2={d.r + 0.85} fill="#B8CCE8" fillOpacity={1} stroke="none" />
          ))}
          {hap1DelRows.map((r) => (
            <ReferenceLine key={'h1' + r} ifOverflow="visible" segment={[{ x: del3[0], y: r + 0.5 }, { x: del3[1], y: r + 0.5 }]} stroke="#000" strokeWidth={1.3} />
          ))}
          {hap2DelRows.map((r) => (
            <ReferenceLine key={'h2' + r} ifOverflow="visible" segment={[{ x: del5[0], y: r + 0.5 }, { x: del5[1], y: r + 0.5 }]} stroke="#000" strokeWidth={1.3} />
          ))}
          <ReferenceLine ifOverflow="visible" y={-0.4} stroke="#555" strokeWidth={1.5} />
          <ReferenceLine ifOverflow="visible" y={16.5} stroke="#777" strokeWidth={1} />
          <ReferenceLine ifOverflow="visible" y={36.8} stroke="#777" strokeWidth={1} />
          <ReferenceLine ifOverflow="visible" segment={[{ x: geneTrack[0], y: 37.74 }, { x: geneTrack[1], y: 37.74 }]} stroke="#3A47A0" strokeWidth={1} strokeDasharray="4 1.5" />
          {geneExons.map(([s, e], k) => (
            <ReferenceArea key={'g' + k} ifOverflow="visible" x1={s} x2={e} y1={37.1} y2={38.4} fill="#2B3990" fillOpacity={1} stroke="none" />
          ))}
          <ReferenceArea ifOverflow="visible" x1={del5[0]} x2={del5[1]} y1={-4.0} y2={39.66} fill="none" stroke="#E8262A" strokeWidth={1} />
          <ReferenceArea ifOverflow="visible" x1={del3[0]} x2={del3[1]} y1={-4.0} y2={39.66} fill="none" stroke="#E8262A" strokeWidth={1} />
          <Scatter data={reads1} isAnimationActive={false} shape={noShape} />
        </ScatterChart>
      </Place>
    </>
  );
}

// ---------------- Static decoration & text ----------------
function Background() {
  return (
    <svg width={895} height={1280} style={{ position: 'absolute', left: 0, top: 0, zIndex: 0 }}>
      <rect x={565} y={22} width={17} height={301} fill="#F1F3F6" />
      <rect x={582} y={22} width={16.5} height={301} fill="#F9FAFB" />
      <rect x={598.5} y={22} width={16.5} height={301} fill="#F1F3F6" />
      <rect x={481} y={638.5} width={233} height={104} fill="#FFFFFF" />
    </svg>
  );
}

function Overlay() {
  const gray = '#555';
  return (
    <svg width={895} height={1280} style={{ position: 'absolute', left: 0, top: 0, zIndex: 5, pointerEvents: 'none' }}>
      {/* ---------- A ---------- */}
      <T x={8} cy={15} fs={19} b c={gray}>A</T>
      <rect x={30} y={2} width={481} height={47} fill="none" stroke="#000" strokeWidth={1.3} />
      <T x={270} cy={12.3} fs={16.5} b a="middle">Filter Category</T>
      <circle cx={48.3} cy={32.3} r={6.3} fill={COL.wgs} />
      <T x={61.7} cy={32.3} fs={13.5}>WGS only</T>
      <circle cx={150.7} cy={32.3} r={6.3} fill={COL.hpo} />
      <T x={168.3} cy={32.3} fs={13.5}>WGS+HPO</T>
      <circle cx={265} cy={32.3} r={6.3} fill={COL.rna} />
      <T x={283.3} cy={32.3} fs={13.5}>WGS+RNA</T>
      <circle cx={377.7} cy={32.3} r={6.3} fill={COL.rnahpo} />
      <T x={391.7} cy={32.3} fs={13.5}>WGS+RNA+HPO</T>
      <VT cx={14} cy={213} fs={16.7} b>Rare disease variant filters</VT>
      <Ln x1={29.3} y1={73.3} x2={29.3} y2={386} c={TXT.wgs} w={1.5} />
      <Ln x1={29.3} y1={73.3} x2={58} y2={73.3} c={TXT.wgs} w={1.5} />
      <Ln x1={41} y1={137.7} x2={41} y2={178.3} c={COL.hpo} w={1.5} />
      <Ln x1={41} y1={137.7} x2={85} y2={137.7} c={COL.hpo} w={1.5} />
      <Ln x1={39} y1={206.7} x2={39} y2={386} c={COL.rna} w={1.5} />
      <Ln x1={39} y1={206.7} x2={112.3} y2={206.7} c={COL.rna} w={1.5} />
      <Ln x1={49} y1={303.3} x2={49} y2={386} c={COL.rnahpo} w={1.5} />
      <Ln x1={49} y1={303.3} x2={85} y2={303.3} c={COL.rnahpo} w={1.5} />
      <Ln x1={100} y1={88.5} x2={181} y2={88.5} c="#C9C9C9" d="4 3" />
      <Ln x1={100} y1={188.5} x2={181} y2={188.5} c="#C9C9C9" d="4 3" />
      <T x={306} cy={415.5} fs={16} b a="middle">Number SV-Gene pairs</T>
      <T x={306} cy={432.5} fs={16} b a="middle">prioritized</T>
      <T x={444} cy={415.5} fs={15.5} b a="middle">Patient</T>
      <T x={444} cy={432.5} fs={15.5} b a="middle">count</T>

      {/* ---------- B ---------- */}
      <T x={545} cy={25} fs={19} b c={gray}>B</T>
      <VT cx={531} cy={155} fs={17} b>Filters</VT>
      <T x={757} cy={375} fs={16} b a="middle">Prioritized variant count</T>

      {/* ---------- C ---------- */}
      <T x={9} cy={462} fs={19} b c={gray}>C</T>
      <rect x={117} y={485} width={135} height={82.3} fill="#fff" stroke="#000" strokeWidth={1.3} />
      <T x={185} cy={500} fs={16.5} b a="middle">Filter Category</T>
      <Ln x1={138.3} y1={519} x2={152.7} y2={519} c={COL.wgs} w={4.3} />
      <Ln x1={138.3} y1={536} x2={152.7} y2={536} c={COL.rna} w={4.3} />
      <Ln x1={138.3} y1={553} x2={152.7} y2={553} c={COL.hpo} w={4.3} />
      <T x={166.7} cy={519} fs={13.5}>WGS only</T>
      <T x={166.7} cy={536} fs={13.5}>WGS+RNA</T>
      <T x={166.7} cy={553} fs={13.5}>WGS+HPO</T>
      <rect x={264} y={490} width={153} height={73} fill="#fff" stroke="#000" strokeWidth={1.3} />
      <T x={338} cy={500} fs={16.5} b a="middle">Filter contains</T>
      <T x={338} cy={514.7} fs={16.5} b a="middle">diagnostic variant</T>
      <circle cx={290} cy={533} r={5.7} fill="#000" />
      <T x={307} cy={533} fs={13.5}>False</T>
      <polygon points="285,543.5 285,557 300,550.3" fill="#000" />
      <T x={307} cy={550.3} fs={13.5}>True</T>
      <Ln x1={54} y1={594} x2={54} y2={778} c={TXT.wgs} w={1.5} />
      <Ln x1={54} y1={594} x2={81.7} y2={594} c={TXT.wgs} w={1.5} />
      <Ln x1={65} y1={666.3} x2={65} y2={710} c={COL.rna} w={1.5} />
      <Ln x1={65} y1={666.3} x2={106.7} y2={666.3} c={COL.rna} w={1.5} />
      <VT cx={11} cy={671} fs={21} b>Case Example 1</VT>
      <VT cx={33} cy={669.5} fs={21} b i>FAM193B</VT>
      <T x={306} cy={822} fs={16.6} b a="middle">SV-gene pairs prioritized</T>

      {/* ---------- E ---------- */}
      <T x={16} cy={911.7} fs={19} b c={gray}>E</T>
      <rect x={79} y={899} width={137} height={82.7} fill="#fff" stroke="#000" strokeWidth={1.3} />
      <T x={148} cy={914} fs={16.5} b a="middle">Filter Category</T>
      <Ln x1={100.7} y1={932.7} x2={115} y2={932.7} c={COL.wgs} w={4.3} />
      <Ln x1={100.7} y1={949.3} x2={115} y2={949.3} c={COL.rna} w={4.3} />
      <Ln x1={100.7} y1={967.3} x2={115} y2={967.3} c={COL.hpo} w={4.3} />
      <T x={129.3} cy={932.7} fs={13.5}>WGS only</T>
      <T x={129.3} cy={949.3} fs={13.5}>WGS+RNA</T>
      <T x={129.3} cy={967.3} fs={13.5}>WGS+HPO</T>
      <rect x={226} y={906.7} width={156} height={74.3} fill="#fff" stroke="#000" strokeWidth={1.3} />
      <T x={303.5} cy={917.3} fs={16.5} b a="middle">Filter contains</T>
      <T x={303.5} cy={931.7} fs={16.5} b a="middle">diagnostic variants</T>
      <circle cx={252} cy={951} r={5.7} fill="#000" />
      <T x={269} cy={951} fs={13.5}>False</T>
      <polygon points="246.7,961.7 246.7,976 261.7,968.7" fill="#000" />
      <T x={269} cy={968.7} fs={13.5}>True</T>
      <Ln x1={53.3} y1={998} x2={53.3} y2={1184.3} c={TXT.wgs} w={1.5} />
      <Ln x1={53.3} y1={998} x2={82} y2={998} c={TXT.wgs} w={1.5} />
      <Ln x1={64.3} y1={1069.7} x2={64.3} y2={1110} c={COL.rna} w={1.5} />
      <Ln x1={64.3} y1={1069.7} x2={106.7} y2={1069.7} c={COL.rna} w={1.5} />
      <VT cx={11} cy={1069} fs={21} b>Case Example 2</VT>
      <VT cx={33} cy={1066} fs={21} b i>FAM177A1</VT>
      <T x={309} cy={1228} fs={16.6} b a="middle">SV-gene pairs prioritized</T>

      {/* ---------- D ---------- */}
      <rect x={431} y={447} width={462} height={431} fill="none" stroke="#222" strokeWidth={1.5} />
      <T x={435} cy={458} fs={17} b c={gray}>D</T>
      <text x={467} y={458.7 + 13.5 * 0.36} fontSize={13.5} fontFamily={FONT}>
        <tspan fontWeight={700}>chr5:177,554,489</tspan><tspan> CGC</tspan>
      </text>
      <VT cx={441} cy={524} fs={17} b>Count</VT>
      <T x={715} cy={526} fs={13.5} b a="end">proband</T>
      <T x={709} cy={541} fs={13.5} b a="end">affected sibling</T>
      <T x={645} cy={572} fs={13.5} b a="end">unaffected parent</T>
      <Ln x1={603} y1={578} x2={660} y2={589} c="#333" w={0.9} />
      <Ln x1={681.7} y1={545.5} x2={704} y2={589} c="#333" w={0.9} />
      <Ln x1={710} y1={531} x2={710.7} y2={589} c="#333" w={0.9} />
      <T x={606.7} cy={615.5} fs={16.7} b a="middle">Repeat copy number</T>
      <polygon points="595.7,621 681.7,621 641,639" fill="#D6479F" />
      <rect x={480.7} y={638} width={233.3} height={104.7} fill="none" stroke="#222" strokeWidth={1.2} />
      <T x={483.5} cy={645.3} fs={10} c="#222">chr5:177,554Kb-177,555Kb</T>
      <T x={485} cy={670.7} fs={17} c="#2E3192">FAM193B</T>
      <T x={596} cy={667} fs={10.5}>GENCODE V44</T>
      <T x={591} cy={700} fs={10.5}>ENCODE cCREs</T>
      <T x={514} cy={705} fs={8.5} c="#C9902A">enhP</T>
      <T x={514} cy={713.3} fs={8.5} c="#C9902A">enhP</T>
      <T x={514} cy={722.3} fs={8.5} c="#E8262A">prom</T>
      <T x={514} cy={731.3} fs={8.5} c="#C9902A">enhP</T>
      <text x={563} y={737.3 + 13 * 0.36} fontSize={13} fill="#E46FB8" fontFamily={FONT}>
        (CGC)<tspan fontSize={8} dy={-5}>n</tspan><tspan dy={5}> STR</tspan>
      </text>
      <text x={819.5} y={521 + 14 * 0.36} fontSize={14} textAnchor="middle" fontFamily={FONT}>
        Gene: <tspan fontWeight={700} fontStyle="italic">FAM193B</tspan>
      </text>
      <VT cx={736} cy={620} fs={17.5} b>Score ~ [0,1]</VT>
      <VT cx={446} cy={801.7} fs={17} b>Count</VT>
      <T x={793} cy={816.7} fs={13.5} b a="middle">affected sibling</T>
      <T x={767} cy={832} fs={13.5} b a="middle">proband</T>
      <Ln x1={788} y1={839} x2={826.7} y2={851.7} c="#333" w={0.9} />
      <Ln x1={831.7} y1={824} x2={838} y2={851.7} c="#333" w={0.9} />
      <text x={670.5} y={871 + 12.5 * 0.36} fontSize={12.5} textAnchor="middle" fontWeight={700} fontFamily={FONT}>
        <tspan fontStyle="italic">FAM193B</tspan> expression z-score in blood
      </text>

      {/* ---------- F ---------- */}
      <rect x={436} y={885} width={457} height={390} fill="none" stroke="#222" strokeWidth={1.5} />
      <T x={442} cy={895} fs={17} b c={gray}>F</T>
      <T x={494} cy={894.3} fs={10.6} b>chr14:35,038,836-35,092,456</T>
      <T x={494} cy={906} fs={12} a="end" c="#333">Read</T>
      <T x={494} cy={918.5} fs={12} a="end" c="#333">Depth</T>
      <rect x={496} y={900} width={163} height={239.3} fill="none" stroke="#555" strokeWidth={1} />
      <rect x={512} y={900.5} width={24.7} height={12.5} fill="#fff" stroke="#E8262A" strokeWidth={1} />
      <rect x={613.3} y={900.5} width={29} height={12.5} fill="#fff" stroke="#E8262A" strokeWidth={1} />
      <T x={524.4} cy={906.7} fs={13} a="middle" c="#E8262A">8Kb</T>
      <T x={628} cy={906.7} fs={13} a="middle" c="#E8262A">9.8Kb</T>
      <T x={578} cy={1103.3} fs={14} b a="middle" c="#2B3990">FAM177A1</T>
      <T x={520.7} cy={1132.7} fs={14} b a="middle" c="#E8262A">5’ DEL</T>
      <T x={628.8} cy={1132.7} fs={14} b a="middle" c="#E8262A">3’ DEL</T>
      <VT cx={470} cy={1008} fs={14} b>Proband</VT>
      <VT cx={487} cy={964} fs={14} c="#666">Haplotype 1</VT>
      <VT cx={487} cy={1052} fs={14} c="#666">Haplotype 2</VT>
      <text x={788} y={896.7 + 14 * 0.36} fontSize={14} textAnchor="middle" fontFamily={FONT}>
        Gene: <tspan fontWeight={700} fontStyle="italic">FAM177A1</tspan>
      </text>
      <T x={741.7} cy={913} fs={14} b a="middle">5’ Deletion</T>
      <T x={829} cy={913} fs={14} b a="middle">3’ Deletion</T>
      <VT cx={675} cy={1010} fs={17.5} b>Score ~ [0,1]</VT>
      <VT cx={459} cy={1194} fs={17} b>Count</VT>
      <T x={546} cy={1202} fs={13.5} b a="middle">proband</T>
      <T x={669} cy={1201.7} fs={13.5} b a="middle">affected sibling</T>
      <Ln x1={547.3} y1={1208.3} x2={520} y2={1239.3} c="#333" w={0.9} />
      <Ln x1={661.7} y1={1210} x2={635} y2={1239.3} c="#333" w={0.9} />
      <text x={669.3} y={1266.5 + 13 * 0.36} fontSize={13} textAnchor="middle" fontWeight={700} fontFamily={FONT}>
        <tspan fontStyle="italic">FAM177A1</tspan> expression z-score in fibroblast
      </text>
    </svg>
  );
}

export default function App() {
  return (
    <div style={{ position: 'absolute', left: 0, top: 0, width: 895, height: 1280, background: '#fff', overflow: 'hidden', fontFamily: FONT }}>
      <Background />
      <PanelA />
      <PanelB />
      <CaseChart plot={{ x: 202, y: 572, w: 217.5, h: 224 }} xd={[0.6044, 2.4746]} yd={[0.3855, 6.6425]}
        values={case1Values} diag={case1Diagnostic} layout={layoutC} tickLen={0} dyTick={12.7} />
      <CaseChart plot={{ x: 199, y: 986, w: 222, h: 213 }} xd={[0.5955, 2.5093]} yd={[0.6648, 6.6146]}
        values={case2Values} diag={case2Diagnostic} layout={layoutE} tickLen={3} dyTick={13.7} />
      <PanelD />
      <PanelF />
      <Overlay />
    </div>
  );
}
